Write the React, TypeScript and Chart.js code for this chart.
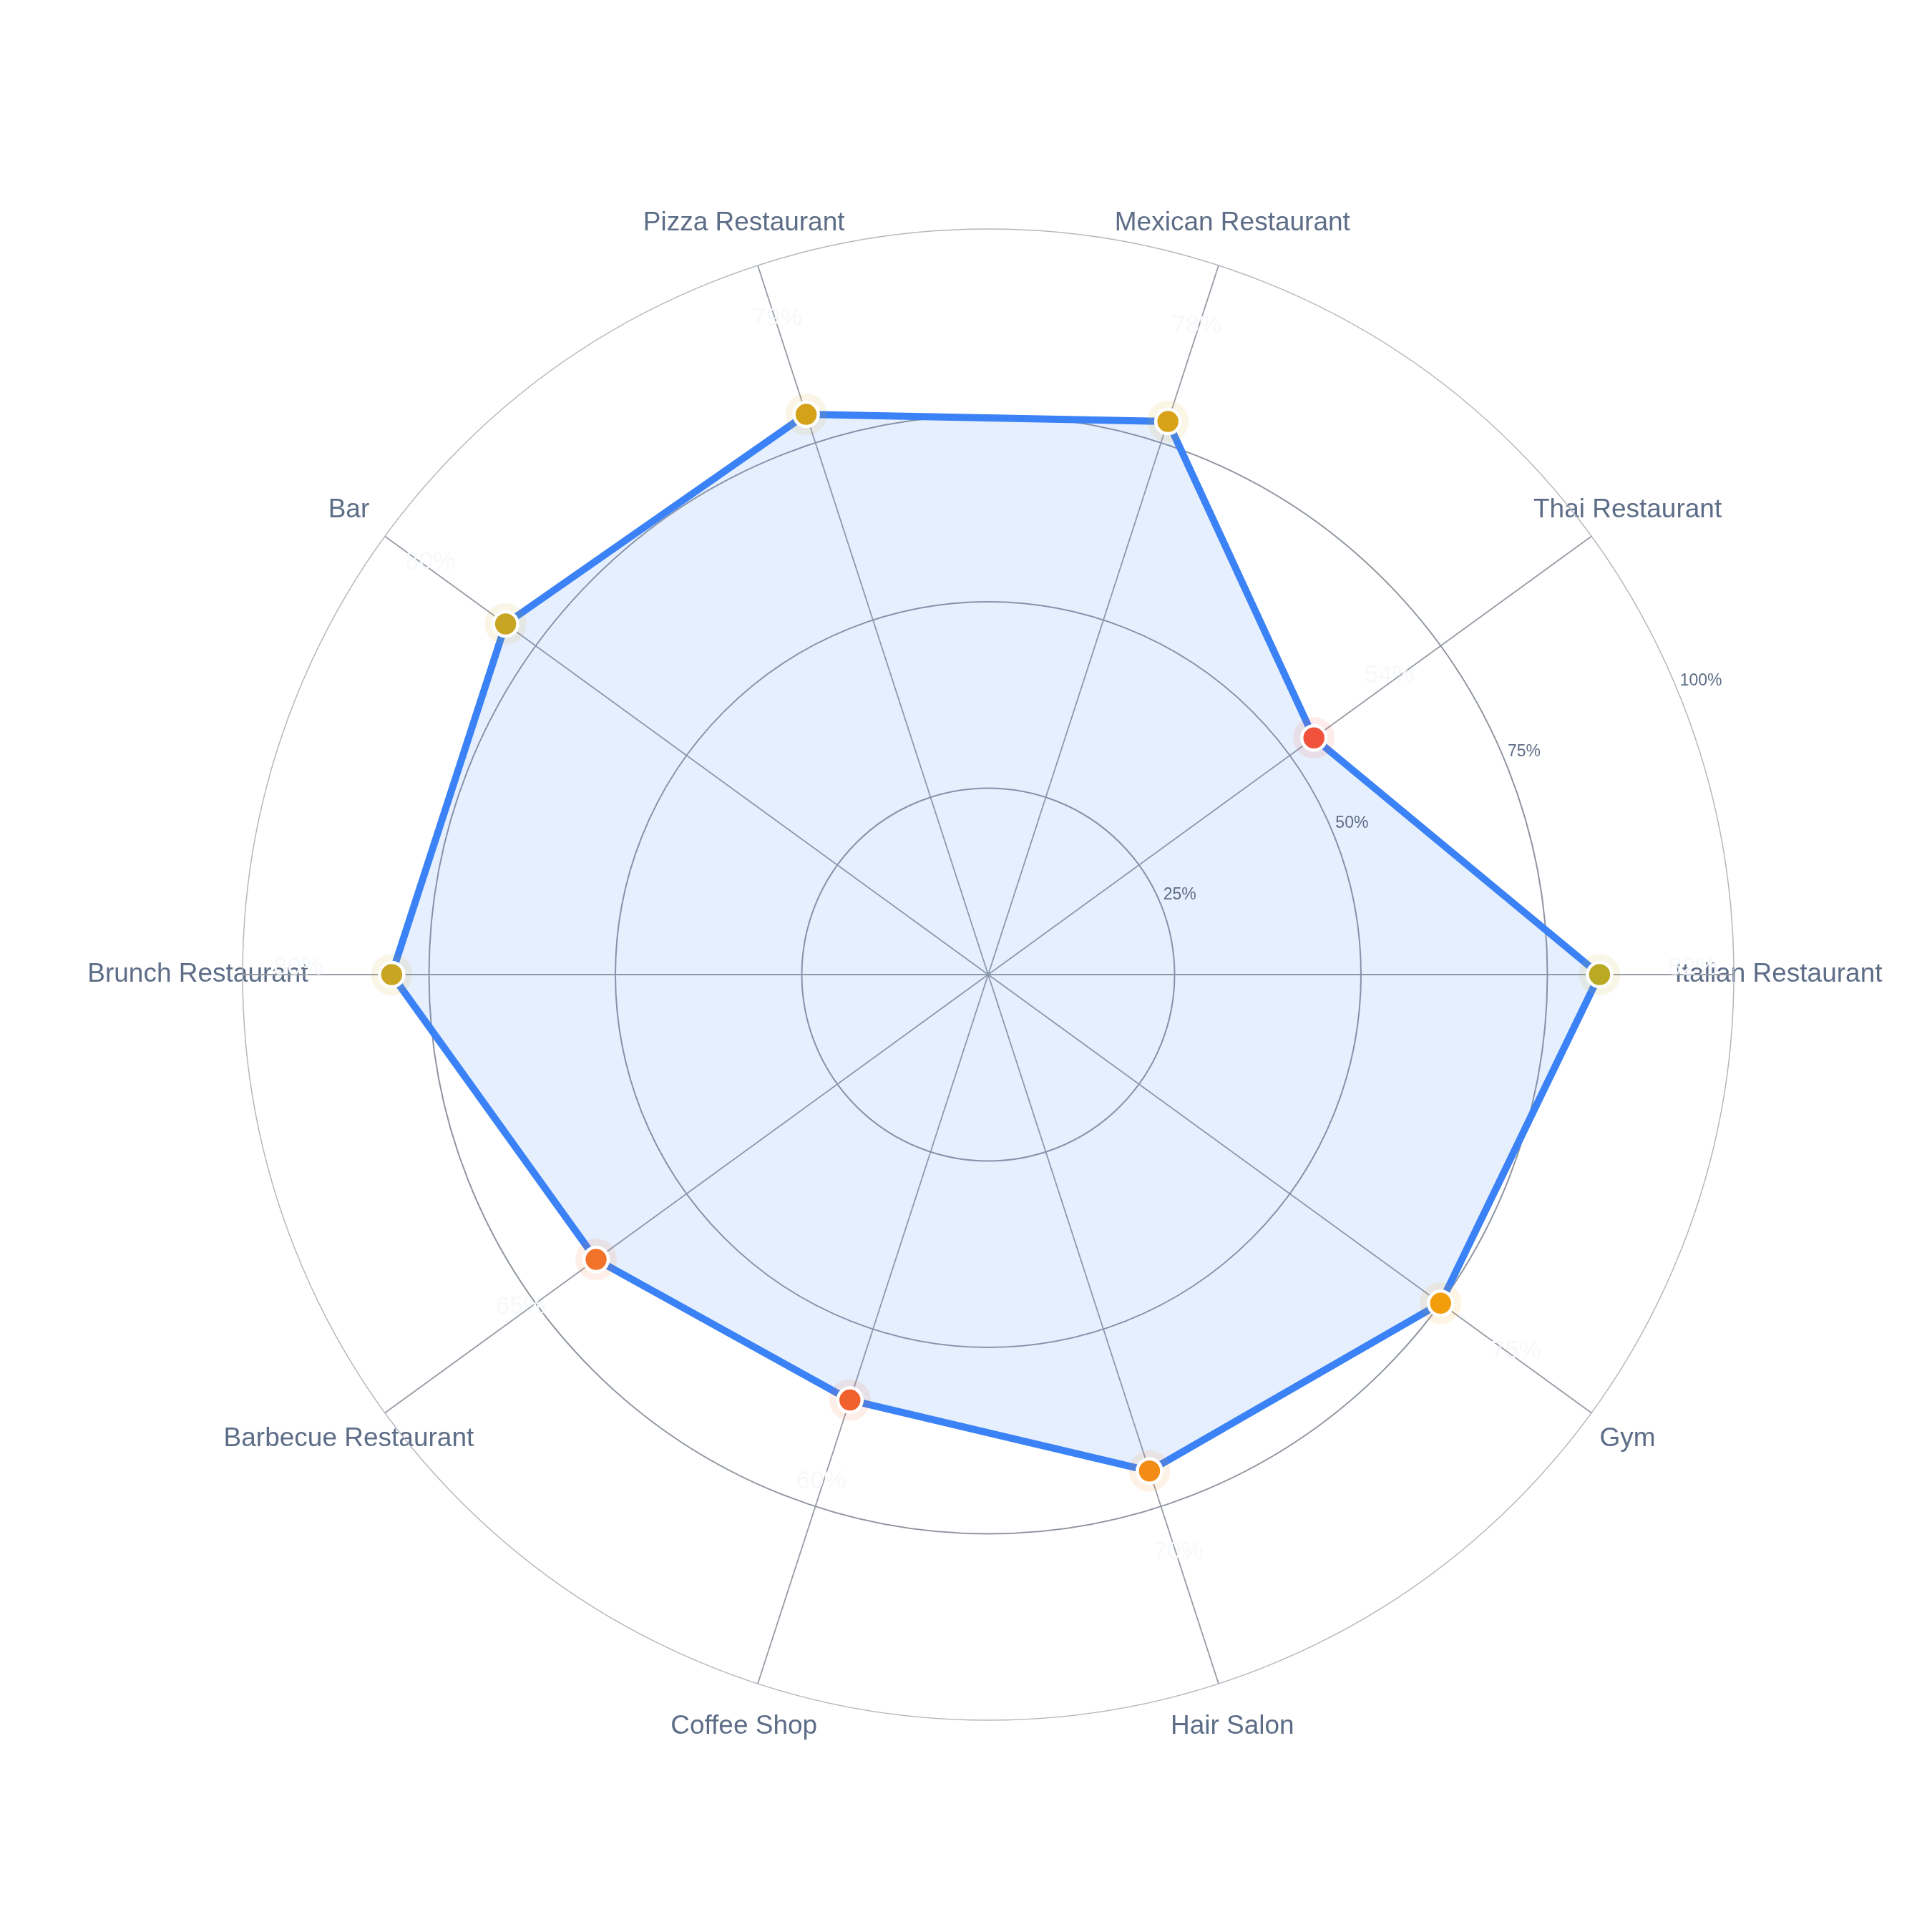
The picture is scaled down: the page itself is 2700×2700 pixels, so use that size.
import { useEffect, useRef } from 'react';
import { Chart, registerables } from 'chart.js';

Chart.register(...registerables);

// listed clockwise from the right-hand axis (chart.js draws clockwise)
const categories = [
  'Italian Restaurant',
  'Gym',
  'Hair Salon',
  'Coffee Shop',
  'Barbecue Restaurant',
  'Brunch Restaurant',
  'Bar',
  'Pizza Restaurant',
  'Mexican Restaurant',
  'Thai Restaurant',
];
const scores = [82, 75, 70, 60, 65, 80, 80, 79, 78, 54];
const pointColors = [
  '#baa922',
  '#f29e0c',
  '#f38b17',
  '#f1612d',
  '#f3722a',
  '#c9a524',
  '#c9a524',
  '#d4a31a',
  '#d8a318',
  '#f0523b',
];
const tickValues = [25, 50, 75, 100];

const FONT = '"Liberation Sans", Arial, Helvetica, sans-serif';

function withAlpha(hex: string, a: number) {
  const n = parseInt(hex.slice(1), 16);
  return `rgba(${(n >> 16) & 255}, ${(n >> 8) & 255}, ${n & 255}, ${a})`;
}

const labelPlugin = {
  id: 'radarText',
  beforeDraw(chart: any) {
    const scale = chart.scales.r;
    const ctx = chart.ctx;
    ctx.save();
    ctx.font = `37px ${FONT}`;
    ctx.fillStyle = '#5d6d87';
    ctx.textAlign = 'center';
    ctx.textBaseline = 'middle';
    categories.forEach((c, i) => {
      const p = scale.getPointPositionForValue(i, 106);
      ctx.fillText(c, p.x, p.y);
    });
    ctx.restore();
  },
  afterDraw(chart: any) {
    const scale = chart.scales.r;
    const ctx = chart.ctx;
    ctx.save();
    // radial tick labels along -22.5deg
    const ang = (-22.5 * Math.PI) / 180;
    ctx.font = `23px ${FONT}`;
    ctx.fillStyle = '#5d6d87';
    ctx.textAlign = 'left';
    ctx.textBaseline = 'middle';
    tickValues.forEach((v) => {
      const r = scale.getDistanceFromCenterForValue(v);
      ctx.fillText(`${v}%`, scale.xCenter + r * Math.cos(ang) + 4, scale.yCenter + r * Math.sin(ang) - 12);
    });
    // faint value labels outside each point
    ctx.font = `35px ${FONT}`;
    ctx.fillStyle = '#f6f8fa';
    ctx.textAlign = 'center';
    scores.forEach((v, i) => {
      const p = scale.getPointPositionForValue(i, v + 12.5);
      ctx.fillText(`${v}%`, p.x, p.y - 10);
    });
    ctx.restore();
  },
};

export default function App() {
  const canvasRef = useRef<HTMLCanvasElement>(null);

  useEffect(() => {
    document.body.style.margin = '0';
    if (!canvasRef.current) return;
    const chart = new Chart(canvasRef.current, {
      type: 'radar',
      data: {
        labels: categories,
        datasets: [
          {
            label: 'score',
            data: scores,
            borderColor: '#3b82f6',
            borderWidth: 10,
            borderJoinStyle: 'round',
            backgroundColor: 'rgba(59, 130, 246, 0.13)',
            fill: true,
            pointRadius: 0,
            pointHoverRadius: 0,
            order: 3,
          },
          {
            label: 'halo',
            data: scores,
            showLine: false,
            fill: false,
            pointRadius: 29,
            pointBorderWidth: 0,
            pointBackgroundColor: pointColors.map((c) => withAlpha(c, 0.11)),
            order: 2,
          },
          {
            label: 'points',
            data: scores,
            showLine: false,
            fill: false,
            pointRadius: 17,
            pointBorderWidth: 4.5,
            pointBorderColor: '#ffffff',
            pointBackgroundColor: pointColors,
            order: 1,
          },
        ],
      },
      plugins: [labelPlugin],
      options: {
        responsive: true,
        maintainAspectRatio: false,
        animation: false,
        layout: {
          padding: { left: 339, right: 277, top: 320, bottom: 296 },
        },
        plugins: {
          legend: { display: false },
          tooltip: { enabled: false },
        },
        scales: {
          r: {
            startAngle: 90,
            min: 0,
            max: 100,
            ticks: { stepSize: 25, display: false },
            pointLabels: { display: false },
            grid: {
              circular: true,
              color: (ctx: any) => (ctx.tick && ctx.tick.value === 100 ? '#b3b7be' : '#8f959f'),
              lineWidth: (ctx: any) => (ctx.tick && ctx.tick.value === 100 ? 1.5 : 2),
            },
            angleLines: {
              color: '#969ba4',
              lineWidth: 1.8,
            },
          },
        },
      },
    });
    return () => chart.destroy();
  }, []);

  return (
    <div style={{ position: 'relative', width: 2700, height: 2700, background: '#ffffff' }}>
      <canvas ref={canvasRef}></canvas>
    </div>
  );
}
